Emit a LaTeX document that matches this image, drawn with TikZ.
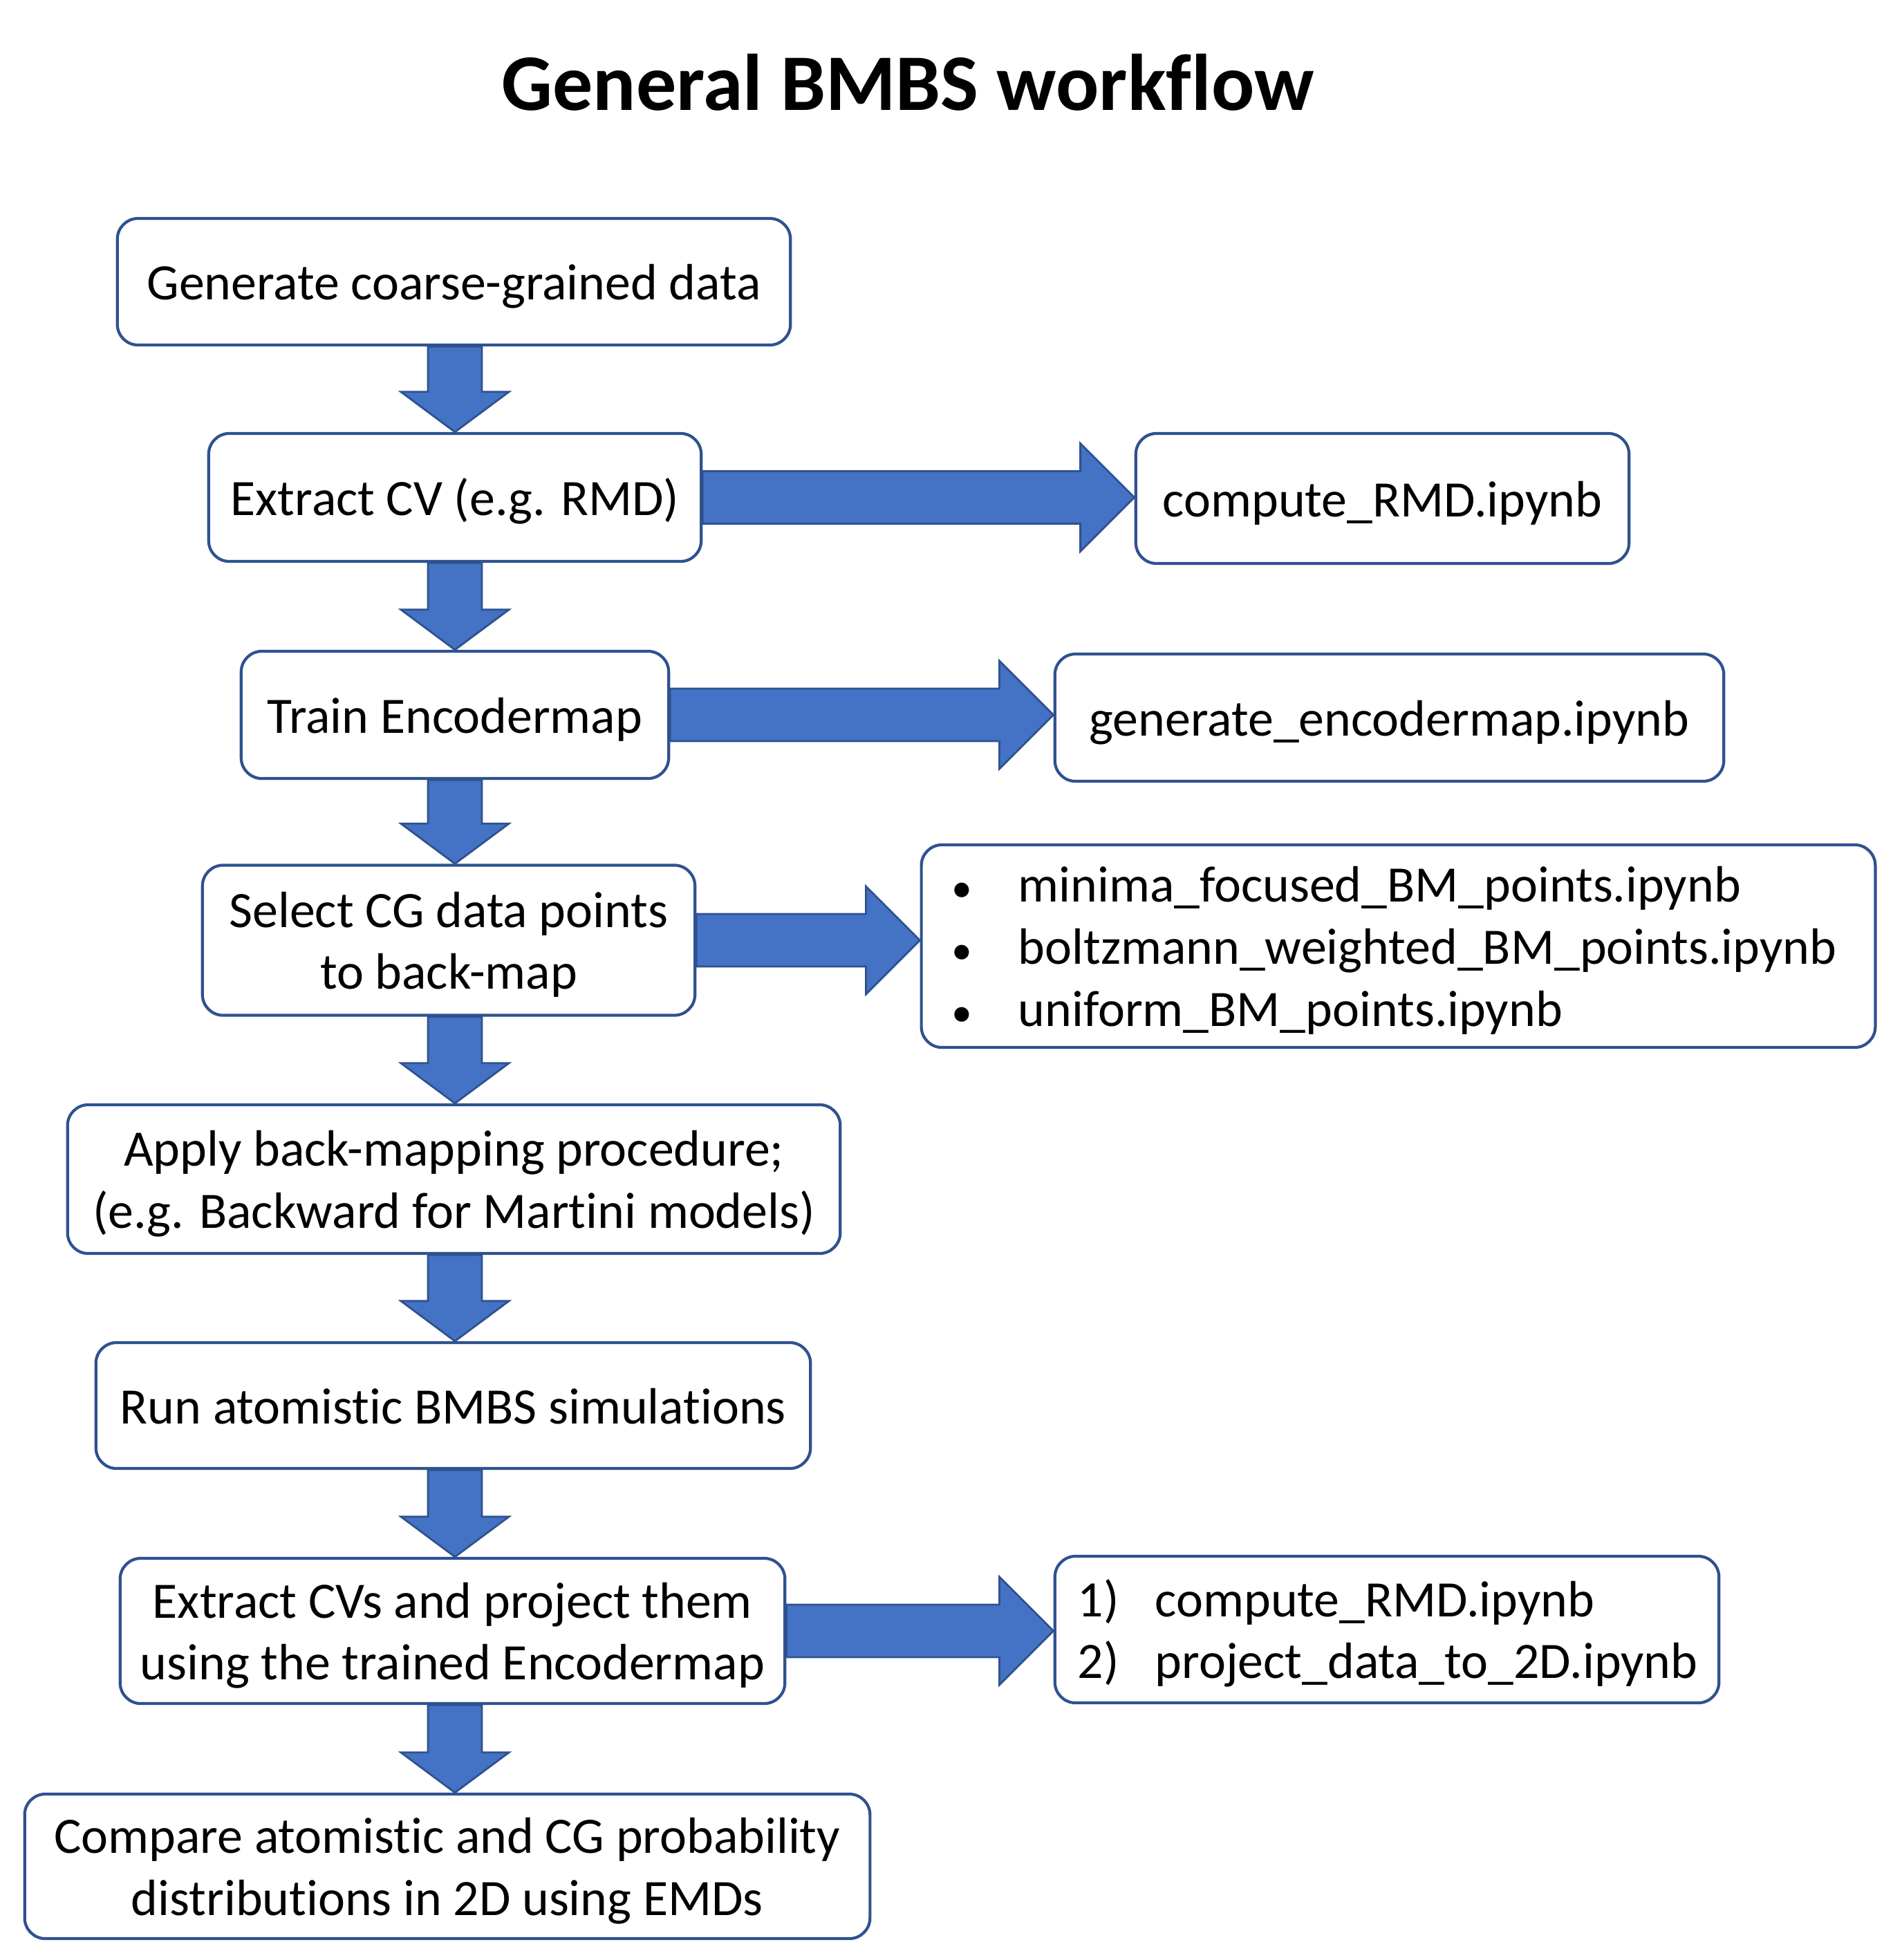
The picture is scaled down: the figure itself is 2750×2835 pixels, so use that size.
\documentclass[tikz,border=0pt]{standalone}
\usepackage{fontspec}
\setmainfont{Carlito}[Ligatures=NoCommon]
\usetikzlibrary{calc}
\definecolor{arrfill}{HTML}{4472C4}
\definecolor{arrline}{HTML}{2F528F}
\pgfdeclarelayer{background}
\pgfsetlayers{background,main}
\newcommand{\vblock}[2]{%
  \path[blockarrow] let \p1=(#1.south), \p2=(#2.north), \p3=(658,0) in
  (\x3-11.1pt,\y1) -- (\x3-11.1pt,\y2+16.5pt) -- (\x3-22.2pt,\y2+16.5pt) -- (\x3,\y2)
  -- (\x3+22.2pt,\y2+16.5pt) -- (\x3+11.1pt,\y2+16.5pt) -- (\x3+11.1pt,\y1) -- cycle;}
\newcommand{\hblock}[2]{%
  \path[blockarrow] let \p1=(#1.east), \p2=(#2.west) in
  (\x1,\y1+10.8pt) -- (\x2-22.2pt,\y1+10.8pt) -- (\x2-22.2pt,\y1+22.2pt) -- (\x2,\y1)
  -- (\x2-22.2pt,\y1-22.2pt) -- (\x2-22.2pt,\y1-10.8pt) -- (\x1,\y1-10.8pt) -- cycle;}
\newcommand{\bul}{\makebox[0.84cm][l]{\hspace{-0.12cm}\fontsize{17}{17}\selectfont•}}
\newcommand{\tstrut}{\rule{0pt}{20pt}}
\newcommand{\bstrut}{\rule[-5.2pt]{0pt}{5.2pt}}
\begin{document}
\begin{tikzpicture}[x=0.01cm,y=-0.01cm,
  box/.style={draw=arrline, line width=1.2pt, fill=white, rounded corners=0.3cm,
    inner sep=0pt, align=center, font=\fontsize{21}{25.5}\selectfont},
  blockarrow/.style={fill=arrfill, draw=arrline, line width=0.8pt, line join=miter},
  titletext/.style={font=\fontsize{33}{40}\selectfont\bfseries, inner sep=0pt}]
\useasboundingbox (0,0) rectangle (2750,2835);
\node[titletext, anchor=base] (title) at (1313,159) {General BMBS workflow};

\node[box, minimum width=9.73cm, minimum height=1.83cm] (b1) at (656.5,407.5) {\tstrut Generate coarse-grained data\bstrut};
\node[box, minimum width=7.12cm, minimum height=1.85cm] (b2) at (658,719.5) {\tstrut Extract CV (e.g. RMD)\bstrut};
\node[box, minimum width=7.13cm, minimum height=1.88cm] (r1) at (1999.5,721) {\tstrut compute\_RMD.ipynb\bstrut};
\node[box, minimum width=6.18cm, minimum height=1.84cm] (b3) at (658,1034) {\tstrut Train Encodermap\bstrut};
\node[box, minimum width=9.67cm, minimum height=1.84cm] (r2) at (2009.5,1038) {\tstrut generate\_encodermap.ipynb\bstrut};
\node[box, minimum width=7.12cm, minimum height=2.17cm] (b4) at (649,1360) {\tstrut Select CG data points\\to back-map\bstrut};
\node[box, minimum width=13.79cm, minimum height=2.93cm, align=left, text width=12.67cm] (r3) at (2022.5,1368.5)
  {\tstrut\bul minima\_focused\_BM\_points.ipynb\\
   \bul boltzmann\_weighted\_BM\_points.ipynb\\
   \bul uniform\_BM\_points.ipynb\bstrut};
\node[box, minimum width=11.17cm, minimum height=2.15cm] (b5) at (656.5,1705.5) {\tstrut Apply back-mapping procedure;\\(e.g. Backward for Martini models)\bstrut};
\node[box, minimum width=10.33cm, minimum height=1.82cm] (b6) at (655.5,2033) {\tstrut Run atomistic BMBS simulations\bstrut};
\node[box, minimum width=9.61cm, minimum height=2.10cm] (b7) at (654.5,2359) {\tstrut Extract CVs and project them\\using the trained Encodermap\bstrut};
\node[box, minimum width=9.60cm, minimum height=2.12cm, align=left, text width=8.94cm] (r4) at (2006,2357)
  {\tstrut\makebox[1.12cm][l]{1)}compute\_RMD.ipynb\\
   \makebox[1.12cm][l]{2)}project\_data\_to\_2D.ipynb\bstrut};
\node[box, minimum width=12.22cm, minimum height=2.09cm] (b8) at (647,2699.5) {\tstrut Compare atomistic and CG probability\\distributions in 2D using EMDs\bstrut};

\begin{pgfonlayer}{background}
\vblock{b1}{b2}
\vblock{b2}{b3}
\vblock{b3}{b4}
\vblock{b4}{b5}
\vblock{b5}{b6}
\vblock{b6}{b7}
\vblock{b7}{b8}
\hblock{b2}{r1}
\hblock{b3}{r2}
\hblock{b4}{r3}
\hblock{b7}{r4}
\end{pgfonlayer}
\end{tikzpicture}
\end{document}
